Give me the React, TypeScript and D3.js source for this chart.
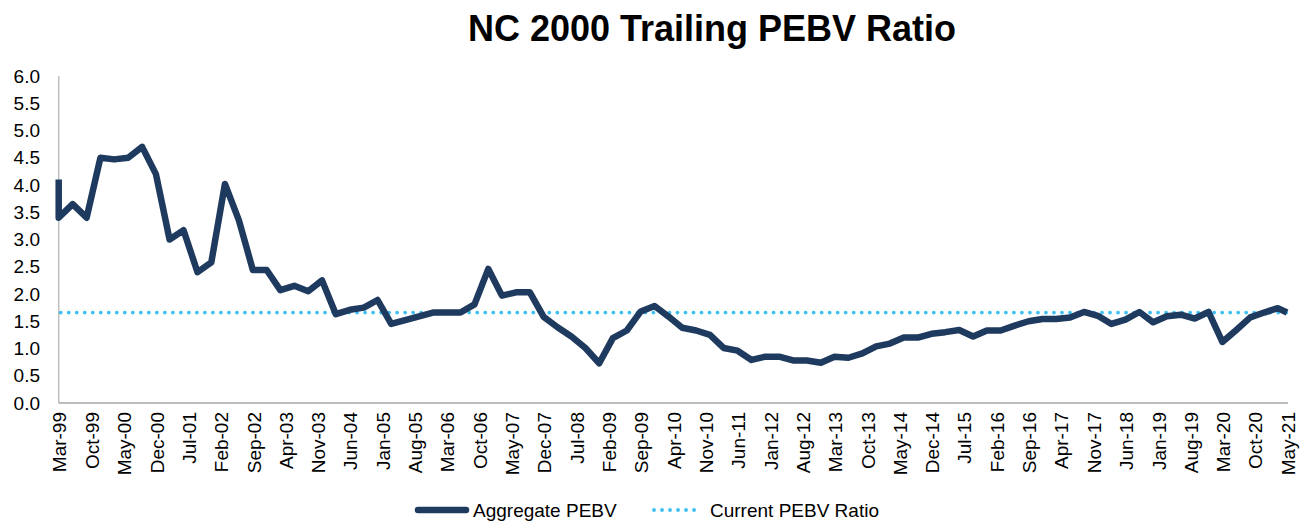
import React, { useRef, useEffect } from "react";
import { select, scaleTime, scaleLinear, line, timeParse, range } from "d3";

// quarterly observations (two readings in Mar-99), last one May-21
const dates: string[] = [
  "Mar-99", "Mar-99", "Jun-99", "Sep-99", "Dec-99",
  "Mar-00", "Jun-00", "Sep-00", "Dec-00",
  "Mar-01", "Jun-01", "Sep-01", "Dec-01",
  "Mar-02", "Jun-02", "Sep-02", "Dec-02",
  "Mar-03", "Jun-03", "Sep-03", "Dec-03",
  "Mar-04", "Jun-04", "Sep-04", "Dec-04",
  "Mar-05", "Jun-05", "Sep-05", "Dec-05",
  "Mar-06", "Jun-06", "Sep-06", "Dec-06",
  "Mar-07", "Jun-07", "Sep-07", "Dec-07",
  "Mar-08", "Jun-08", "Sep-08", "Dec-08",
  "Mar-09", "Jun-09", "Sep-09", "Dec-09",
  "Mar-10", "Jun-10", "Sep-10", "Dec-10",
  "Mar-11", "Jun-11", "Sep-11", "Dec-11",
  "Mar-12", "Jun-12", "Sep-12", "Dec-12",
  "Mar-13", "Jun-13", "Sep-13", "Dec-13",
  "Mar-14", "Jun-14", "Sep-14", "Dec-14",
  "Mar-15", "Jun-15", "Sep-15", "Dec-15",
  "Mar-16", "Jun-16", "Sep-16", "Dec-16",
  "Mar-17", "Jun-17", "Sep-17", "Dec-17",
  "Mar-18", "Jun-18", "Sep-18", "Dec-18",
  "Mar-19", "Jun-19", "Sep-19", "Dec-19",
  "Mar-20", "Jun-20", "Sep-20", "Dec-20",
  "Mar-21", "May-21",
];

const aggregatePEBV: number[] = [
  4.1, 3.4, 3.65, 3.4, 4.5,
  4.47, 4.5, 4.7, 4.2,
  3.0, 3.17, 2.4, 2.58,
  4.02, 3.35, 2.44, 2.44,
  2.07, 2.15, 2.05, 2.25,
  1.63, 1.71, 1.75, 1.89,
  1.45, 1.52, 1.59, 1.66,
  1.66, 1.66, 1.81, 2.46,
  1.97, 2.03, 2.03, 1.58,
  1.39, 1.22, 1.01, 0.73,
  1.19, 1.33, 1.68, 1.78,
  1.59, 1.38, 1.33, 1.25,
  1.01, 0.96, 0.79, 0.85,
  0.85, 0.78, 0.78, 0.74,
  0.85, 0.83, 0.91, 1.04,
  1.09, 1.2, 1.2, 1.27,
  1.3, 1.34, 1.22, 1.33,
  1.33, 1.42, 1.5, 1.54,
  1.54, 1.57, 1.67, 1.6,
  1.45, 1.53, 1.67, 1.48,
  1.59, 1.62, 1.55, 1.67,
  1.12, 1.34, 1.57, 1.66,
  1.74, 1.66,
];

const currentPEBV = 1.66;

const xTickLabels: string[] = [
  "Mar-99", "Oct-99", "May-00", "Dec-00", "Jul-01", "Feb-02", "Sep-02", "Apr-03",
  "Nov-03", "Jun-04", "Jan-05", "Aug-05", "Mar-06", "Oct-06", "May-07", "Dec-07",
  "Jul-08", "Feb-09", "Sep-09", "Apr-10", "Nov-10", "Jun-11", "Jan-12", "Aug-12",
  "Mar-13", "Oct-13", "May-14", "Dec-14", "Jul-15", "Feb-16", "Sep-16", "Apr-17",
  "Nov-17", "Jun-18", "Jan-19", "Aug-19", "Mar-20", "Oct-20", "May-21",
];

const yTicks: number[] = range(0, 6.01, 0.5);

const FONT = "Arial, 'Liberation Sans', sans-serif";
const NAVY = "#1f3a5f";
const SKY = "#3dbff0";

function App() {
  const svgRef = useRef<SVGSVGElement>(null);

  useEffect(() => {
    const svg = select(svgRef.current);
    svg.selectAll("*").remove();

    const parse = timeParse("%b-%y");
    const pts = dates.map((d, i) => ({ date: parse(d) as Date, value: aggregatePEBV[i] }));

    const left = 58.7;
    const right = 1287;
    const top = 76;
    const bottom = 403;

    const x = scaleTime()
      .domain([parse("Mar-99") as Date, parse("May-21") as Date])
      .range([left, right]);
    const y = scaleLinear().domain([0, 6]).range([bottom, top]);

    // title
    svg
      .append("text")
      .attr("x", 712)
      .attr("y", 41)
      .attr("text-anchor", "middle")
      .style("font-family", FONT)
      .style("font-size", "36px")
      .style("font-weight", "bold")
      .attr("fill", "#000")
      .text("NC 2000 Trailing PEBV Ratio");

    // y labels
    svg
      .selectAll(".ylab")
      .data(yTicks)
      .join("text")
      .attr("class", "ylab")
      .attr("x", 40)
      .attr("y", (d) => y(d))
      .attr("dy", "0.35em")
      .attr("text-anchor", "end")
      .style("font-family", FONT)
      .style("font-size", "19px")
      .attr("fill", "#000")
      .text((d) => d.toFixed(1));

    // axes lines
    svg
      .append("line")
      .attr("x1", left)
      .attr("x2", left)
      .attr("y1", top)
      .attr("y2", bottom)
      .attr("stroke", "#bfbfbf")
      .attr("stroke-width", 1.5);
    svg
      .append("line")
      .attr("x1", left)
      .attr("x2", right + 1)
      .attr("y1", bottom)
      .attr("y2", bottom)
      .attr("stroke", "#a6a6a6")
      .attr("stroke-width", 1.5);

    // x labels, rotated
    svg
      .selectAll(".xlab")
      .data(xTickLabels)
      .join("text")
      .attr("class", "xlab")
      .attr("transform", (d) => `translate(${x(parse(d) as Date) + 1},${bottom + 9}) rotate(-90)`)
      .attr("dy", "0.35em")
      .attr("text-anchor", "end")
      .style("font-family", FONT)
      .style("font-size", "19px")
      .attr("fill", "#000")
      .text((d) => d);

    // current ratio dotted line
    svg
      .append("line")
      .attr("x1", left + 2)
      .attr("x2", right)
      .attr("y1", y(currentPEBV))
      .attr("y2", y(currentPEBV))
      .attr("stroke", SKY)
      .attr("stroke-width", 3.8)
      .attr("stroke-linecap", "round")
      .attr("stroke-dasharray", "0.01 8");

    const pebvLine = line<{ date: Date; value: number }>()
      .x((d) => x(d.date))
      .y((d) => y(d.value));

    svg
      .append("path")
      .datum(pts)
      .attr("d", pebvLine)
      .attr("fill", "none")
      .attr("stroke", NAVY)
      .attr("stroke-width", 6.5)
      .attr("stroke-linejoin", "round");

    // legend
    const ly = 510;
    svg
      .append("line")
      .attr("x1", 418)
      .attr("x2", 466)
      .attr("y1", ly)
      .attr("y2", ly)
      .attr("stroke", NAVY)
      .attr("stroke-width", 6.5)
      .attr("stroke-linecap", "round");
    svg
      .append("text")
      .attr("x", 473)
      .attr("y", ly)
      .attr("dy", "0.35em")
      .style("font-family", FONT)
      .style("font-size", "19px")
      .attr("fill", "#000")
      .text("Aggregate PEBV");
    svg
      .append("line")
      .attr("x1", 654)
      .attr("x2", 702)
      .attr("y1", ly)
      .attr("y2", ly)
      .attr("stroke", SKY)
      .attr("stroke-width", 3.8)
      .attr("stroke-linecap", "round")
      .attr("stroke-dasharray", "0.01 8");
    svg
      .append("text")
      .attr("x", 710)
      .attr("y", ly)
      .attr("dy", "0.35em")
      .style("font-family", FONT)
      .style("font-size", "19px")
      .attr("fill", "#000")
      .text("Current PEBV Ratio");
  }, []);

  return (
    <svg
      ref={svgRef}
      width={1302}
      height={521}
      style={{ position: "absolute", left: 0, top: 0, background: "#fff" }}
    />
  );
}

export default App;
